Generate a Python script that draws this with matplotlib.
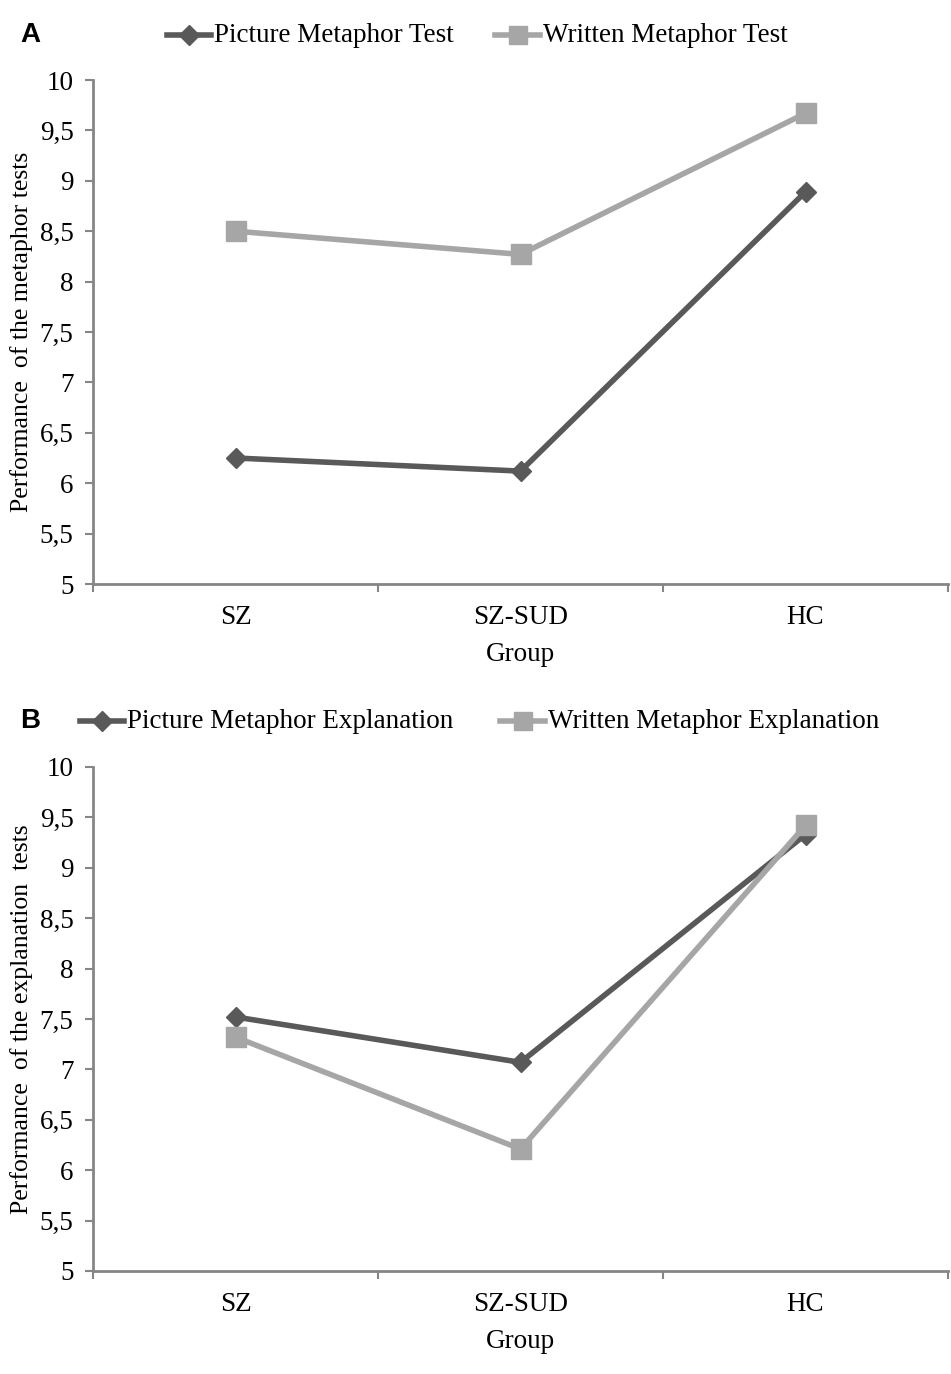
import matplotlib
matplotlib.use("Agg")
import matplotlib.pyplot as plt
from matplotlib.ticker import FixedLocator, FuncFormatter

groups = ["SZ", "SZ-SUD", "HC"]
picture_test = [6.25, 6.12, 8.89]
written_test = [8.50, 8.27, 9.67]
picture_expl = [7.52, 7.07, 9.33]
written_expl = [7.32, 6.21, 9.42]
yticks = [5, 5.5, 6, 6.5, 7, 7.5, 8, 8.5, 9, 9.5, 10]

DARK = "#595959"
LIGHT = "#a6a6a6"
AXC = "#868686"
FONT = ["Liberation Serif", "DejaVu Serif"]

W, H = 951, 1374
fig = plt.figure(figsize=(W / 100, H / 100), dpi=100)

def make_axes(top_px, bottom_px):
    left = 93 / W
    right = 948 / W
    return fig.add_axes([left, 1 - bottom_px / H, right - left, (bottom_px - top_px) / H])

panels = [
    (80, 584, picture_test, written_test, "Picture Metaphor Test", "Written Metaphor Test",
     "Performance  of the metaphor tests", "A", 35, [(167, 214), (495, 543)]),
    (767, 1271, picture_expl, written_expl, "Picture Metaphor Explanation", "Written Metaphor Explanation",
     "Performance  of the explanation  tests", "B", 721, [(80, 127), (500, 548)]),
]

for top, bot, pic, wri, lab1, lab2, ylab, letter, leg_y, legpos in panels:
    ax = make_axes(top, bot)
    x = list(range(len(groups)))
    l1, = ax.plot(x, pic, color=DARK, lw=4, marker="D", ms=10, mfc=DARK, mec=DARK,
                  solid_capstyle="butt", zorder=3)
    l2, = ax.plot(x, wri, color=LIGHT, lw=4, marker="s", ms=14, mfc=LIGHT, mec=LIGHT,
                  solid_capstyle="butt", zorder=4)
    ax.set_xlim(-0.5, len(groups) - 0.5)
    ax.set_ylim(5, 10)
    ax.yaxis.set_major_locator(FixedLocator(yticks))
    ax.yaxis.set_major_formatter(FuncFormatter(lambda v, p: ("%g" % v).replace(".", ",")))
    ax.set_xticks(x)
    ax.set_xticklabels(groups)
    ax.set_xticks([i - 0.5 for i in range(len(groups) + 1)], minor=True)
    ax.tick_params(axis="x", which="major", length=0, pad=15, labelsize=19.5)
    ax.tick_params(axis="x", which="minor", length=6, width=1.5, color=AXC, direction="out")
    ax.tick_params(axis="y", length=6, width=1.5, color=AXC, direction="out", pad=8, labelsize=19.5)
    for lbl in ax.get_xticklabels() + ax.get_yticklabels():
        lbl.set_fontfamily(FONT)
    for s in ["top", "right"]:
        ax.spines[s].set_visible(False)
    for s in ["left", "bottom"]:
        ax.spines[s].set_color(AXC)
        ax.spines[s].set_linewidth(2)
    ax.set_xlabel("Group", fontsize=19.5, family=FONT, labelpad=9)
    ax.set_ylabel(ylab, fontsize=18.5, family=FONT, labelpad=5)
    # legend entries
    for (lx, tx), line, lab in zip(legpos, [l1, l2], [lab1, lab2]):
        fy = 1 - leg_y / H
        fig.lines.append(plt.Line2D([lx / W, (tx - 3) / W], [fy, fy], transform=fig.transFigure,
                                    color=line.get_color(), lw=4))
        mx = (lx + tx - 3) / 2 / W
        fig.lines.append(plt.Line2D([mx], [fy], transform=fig.transFigure, color=line.get_color(),
                                    marker=line.get_marker(),
                                    ms=(10 if line.get_marker() == "D" else 13), lw=0))
        fig.text(tx / W, fy, lab, ha="left", va="center", fontsize=19.5, family=FONT)
    fig.text(20 / W, 1 - leg_y / H, letter, ha="left", va="center", fontsize=20,
             fontweight="bold", family=["Liberation Sans", "DejaVu Sans"])

fig.savefig("out.png", dpi=100)
